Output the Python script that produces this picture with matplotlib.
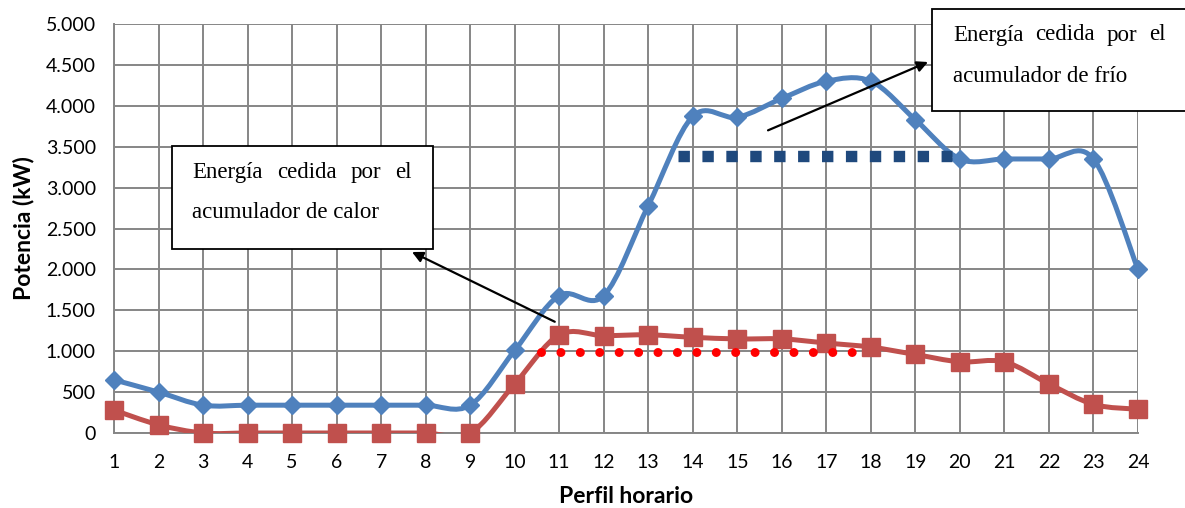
import numpy as np
import matplotlib.pyplot as plt
from matplotlib.path import Path
from matplotlib.patches import PathPatch, Rectangle
from matplotlib.ticker import FuncFormatter, MultipleLocator

# Perfil horario (h) y potencias (kW)
horas = np.arange(1, 25)
frio = [650, 500, 340, 340, 340, 340, 340, 340, 340, 1010, 1680, 1680,
        2780, 3870, 3860, 4090, 4300, 4300, 3830, 3350, 3350, 3350, 3350, 2000]
calor = [280, 100, 0, 0, 0, 0, 0, 0, 0, 600, 1200, 1190,
         1200, 1170, 1150, 1150, 1100, 1050, 960, 870, 870, 600, 350, 290]

# Niveles medios cedidos por los acumuladores
frio_medio_x = [13.66, 19.82]
frio_medio_y = [3390, 3390]
calor_medio_x = [10.59, 17.60]
calor_medio_y = [990, 990]

AZUL = "#4F81BD"
ROJO = "#C0504D"


def curva_suave(x, y):
    """Bezier por tramos (tipo Catmull-Rom), como las lineas suavizadas de Excel."""
    p = np.column_stack([x, y]).astype(float)
    n = len(p)
    verts = [p[0]]
    codes = [Path.MOVETO]
    for i in range(n - 1):
        p0 = p[max(i - 1, 0)]
        p1 = p[i]
        p2 = p[i + 1]
        p3 = p[min(i + 2, n - 1)]
        c1 = p1 + (p2 - p0) / 6.0
        c2 = p2 - (p3 - p1) / 6.0
        verts += [c1, c2, p2]
        codes += [Path.CURVE4] * 3
    return Path(verts, codes)


plt.rcParams["font.family"] = ["Lato", "DejaVu Sans"]

fig = plt.figure(figsize=(11.85, 5.08), dpi=100)
ax = fig.add_axes([114 / 1185, 1 - 433 / 508, 1024 / 1185, 409 / 508])

ax.set_xlim(1, 24)
ax.set_ylim(0, 5000)
ax.xaxis.set_major_locator(MultipleLocator(1))
ax.yaxis.set_major_locator(MultipleLocator(500))
ax.yaxis.set_major_formatter(FuncFormatter(lambda v, _: f"{int(v):,}".replace(",", ".")))
ax.grid(True, color="#868686", linewidth=1.4)
ax.set_axisbelow(True)
for s in ["top", "right"]:
    ax.spines[s].set_visible(False)
for s in ["left", "bottom"]:
    ax.spines[s].set_color("#868686")
    ax.spines[s].set_linewidth(1.4)
ax.tick_params(length=0, labelsize=14)
ax.tick_params(axis="x", pad=15)
ax.tick_params(axis="y", pad=13)

# series suavizadas
ax.add_patch(PathPatch(curva_suave(horas, frio), facecolor="none",
                       edgecolor=AZUL, linewidth=3.6, zorder=3))
ax.add_patch(PathPatch(curva_suave(horas, calor), facecolor="none",
                       edgecolor=ROJO, linewidth=3.6, zorder=3))
ax.plot(horas, frio, linestyle="none", marker="D", markersize=9.5,
        color=AZUL, zorder=4, clip_on=False)
ax.plot(horas, calor, linestyle="none", marker="s", markersize=12.5,
        color=ROJO, zorder=4, clip_on=False)

# niveles medios punteados
ax.plot(frio_medio_x, frio_medio_y, color="#1F497D", linewidth=8.2,
        linestyle=(0, (1.0, 1.10)), dash_capstyle="butt", zorder=5)
ax.plot(calor_medio_x, calor_medio_y, color="#FF0000", linewidth=6.5,
        linestyle=(0, (0.001, 2.15)), dash_capstyle="round", zorder=5)

ax.set_ylabel("Potencia (kW)", fontsize=16.5, fontweight="bold", labelpad=8)
ax.set_xlabel("Perfil horario", fontsize=16.5, fontweight="bold", labelpad=11)

# cuadros de texto
W, H = 1185, 508
renderer = fig.canvas.get_renderer()


def linea_justificada(x0, x1, y, texto):
    palabras = texto.split()
    objs = [fig.text(0, 1 - y / H, p, fontsize=16.5, family="Liberation Serif",
                     va="center", ha="left", zorder=11) for p in palabras]
    anchos = [o.get_window_extent(renderer).width for o in objs]
    hueco = (x1 - x0 - sum(anchos)) / (len(palabras) - 1)
    x = x0
    for o, a in zip(objs, anchos):
        o.set_x(x / W)
        x += a + hueco


def cuadro(x0, y0, x1, y1, tx0, tx1, l1, l2):
    fig.add_artist(Rectangle((x0 / W, 1 - y1 / H), (x1 - x0) / W, (y1 - y0) / H,
                             transform=fig.transFigure, facecolor="white",
                             edgecolor="black", linewidth=1.3, zorder=10))
    linea_justificada(tx0, tx1, y0 + 26, l1)
    fig.text(tx0 / W, 1 - (y0 + 67) / H, l2, fontsize=16.5,
             family="Liberation Serif", va="center", ha="left", zorder=11)


cuadro(172, 146, 433, 249, 192, 412, "Energía cedida por el", "acumulador de calor")
cuadro(932, 9, 1190, 111, 953, 1166, "Energía cedida por el", "acumulador de frío")

# flechas
ax.annotate("", xy=(412 / W, 1 - 252 / H), xycoords="figure fraction",
            xytext=(10.9, 1360), textcoords="data",
            arrowprops=dict(arrowstyle="-|>", color="black", lw=1.6,
                            mutation_scale=16, shrinkA=0, shrinkB=0), zorder=12)
ax.annotate("", xy=(928 / W, 1 - 62 / H), xycoords="figure fraction",
            xytext=(15.69, 3700), textcoords="data",
            arrowprops=dict(arrowstyle="-|>", color="black", lw=1.6,
                            mutation_scale=16, shrinkA=0, shrinkB=0), zorder=12)

fig.savefig("out.png", dpi=100)
